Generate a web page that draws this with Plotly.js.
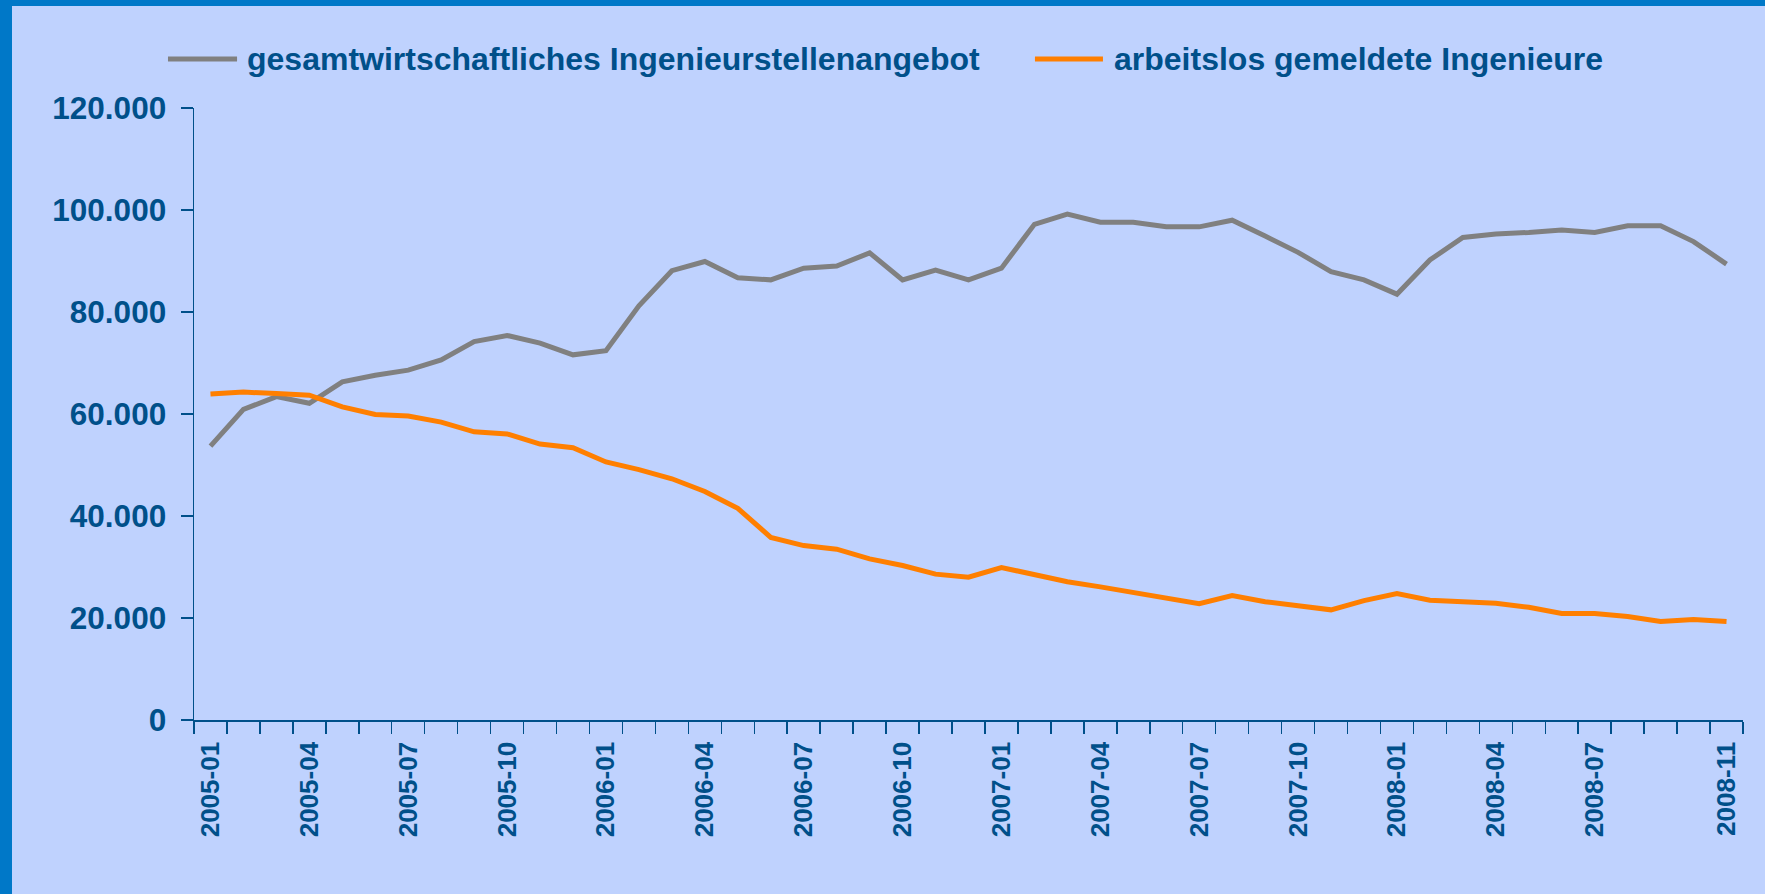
<!DOCTYPE html>
<html>
<head>
<meta charset="utf-8">
<script src="https://cdn.plot.ly/plotly-3.0.1.min.js"></script>
<style>
  html, body { margin: 0; padding: 0; background: #0078C8; width: 1765px; height: 894px; overflow: hidden; }
  #chart { position: absolute; left: 12px; top: 6px; width: 1753px; height: 888px; }
</style>
</head>
<body>
<div id="chart"></div>
<script>
const months = [
  "2005-01","2005-02","2005-03","2005-04","2005-05","2005-06","2005-07","2005-08","2005-09","2005-10","2005-11","2005-12",
  "2006-01","2006-02","2006-03","2006-04","2006-05","2006-06","2006-07","2006-08","2006-09","2006-10","2006-11","2006-12",
  "2007-01","2007-02","2007-03","2007-04","2007-05","2007-06","2007-07","2007-08","2007-09","2007-10","2007-11","2007-12",
  "2008-01","2008-02","2008-03","2008-04","2008-05","2008-06","2008-07","2008-08","2008-09","2008-10","2008-11"
];
const labelledMonths = ["2005-01","2005-04","2005-07","2005-10","2006-01","2006-04","2006-07","2006-10",
  "2007-01","2007-04","2007-07","2007-10","2008-01","2008-04","2008-07","2008-11"];

const stellenangebot = [
  53700, 60900, 63400, 62100, 66300, 67600, 68600, 70600, 74200, 75400, 73900, 71600,
  72400, 81200, 88100, 89900, 86700, 86300, 88600, 89000, 91600, 86300, 88200, 86300,
  88600, 97200, 99200, 97600, 97600, 96700, 96700, 98000, 94900, 91700, 87900, 86300,
  83500, 90200, 94600, 95300, 95600, 96100, 95600, 96900, 96900, 93800, 89400
];
const arbeitslos = [
  63900, 64300, 64000, 63700, 61400, 59900, 59600, 58400, 56500, 56100, 54100, 53400,
  50600, 49100, 47300, 44800, 41500, 35800, 34200, 33500, 31600, 30300, 28600, 28000,
  29900, 28400, 27100, 26100, 25000, 23800, 22800, 24400, 23200, 22400, 21600, 23400,
  24800, 23500, 23200, 22900, 22100, 20900, 20900, 20300, 19300, 19700, 19300
];
const seriesNames = ["gesamtwirtschaftliches Ingenieurstellenangebot", "arbeitslos gemeldete Ingenieure"];
const yTicks = [0, 20000, 40000, 60000, 80000, 100000, 120000];

const textColor = "#00508A";
const fontFam = "'Liberation Sans', Arial, sans-serif";
const grayCol = "#808080";
const orangeCol = "#FF7F00";

const traces = [
  { x: months, y: stellenangebot, name: seriesNames[0], type: "scatter", mode: "lines",
    line: { color: grayCol, width: 5 } },
  { x: months, y: arbeitslos, name: seriesNames[1], type: "scatter", mode: "lines",
    line: { color: orangeCol, width: 5 } }
];

const layout = {
  width: 1753, height: 888,
  paper_bgcolor: "#BFD2FE",
  plot_bgcolor: "#BFD2FE",
  separators: ",.",
  showlegend: false,
  margin: { l: 182, r: 22, t: 102, b: 174, pad: 0 },
  font: { family: fontFam, color: textColor, size: 32 },
  xaxis: {
    type: "category",
    categoryorder: "array",
    categoryarray: months,
    range: [-0.5, months.length - 0.5],
    tickmode: "array",
    tickvals: months,
    ticktext: months.map(m => labelledMonths.includes(m) ? "<b>" + m + "</b>" : ""),
    tickson: "boundaries",
    ticks: "outside",
    ticklen: 12,
    tickwidth: 1.5,
    tickcolor: textColor,
    tickangle: -90,
    tickfont: { family: fontFam, color: textColor, size: 26 },
    ticklabelstandoff: 10,
    showline: true,
    linecolor: textColor,
    linewidth: 1.5,
    showgrid: false,
    zeroline: false,
    fixedrange: true
  },
  yaxis: {
    range: [0, 120000],
    tickmode: "array",
    tickvals: yTicks,
    ticktext: yTicks.map(v => "<b>" + v.toLocaleString("de-DE") + "</b>"),
    ticks: "outside",
    ticklen: 12,
    tickwidth: 1.5,
    tickcolor: textColor,
    tickfont: { family: fontFam, color: textColor, size: 31.5 },
    ticklabelstandoff: 8,
    showline: true,
    linecolor: textColor,
    linewidth: 1.5,
    showgrid: false,
    zeroline: false,
    fixedrange: true
  },
  shapes: [
    { type: "line", xref: "paper", yref: "paper", x0: -0.0168, x1: 0.0278, y0: 1.080, y1: 1.080,
      line: { color: grayCol, width: 5 } },
    { type: "line", xref: "paper", yref: "paper", x0: 0.5429, x1: 0.5868, y0: 1.080, y1: 1.080,
      line: { color: orangeCol, width: 5 } }
  ],
  annotations: [
    { xref: "paper", yref: "paper", x: 0.0329, y: 1.080, xanchor: "left", yanchor: "middle",
      text: "<b>" + seriesNames[0] + "</b>", showarrow: false,
      font: { family: fontFam, color: textColor, size: 32 } },
    { xref: "paper", yref: "paper", x: 0.5926, y: 1.080, xanchor: "left", yanchor: "middle",
      text: "<b>" + seriesNames[1] + "</b>", showarrow: false,
      font: { family: fontFam, color: textColor, size: 32 } }
  ]
};

Plotly.newPlot("chart", traces, layout, { displayModeBar: false, staticPlot: true });
</script>
</body>
</html>
